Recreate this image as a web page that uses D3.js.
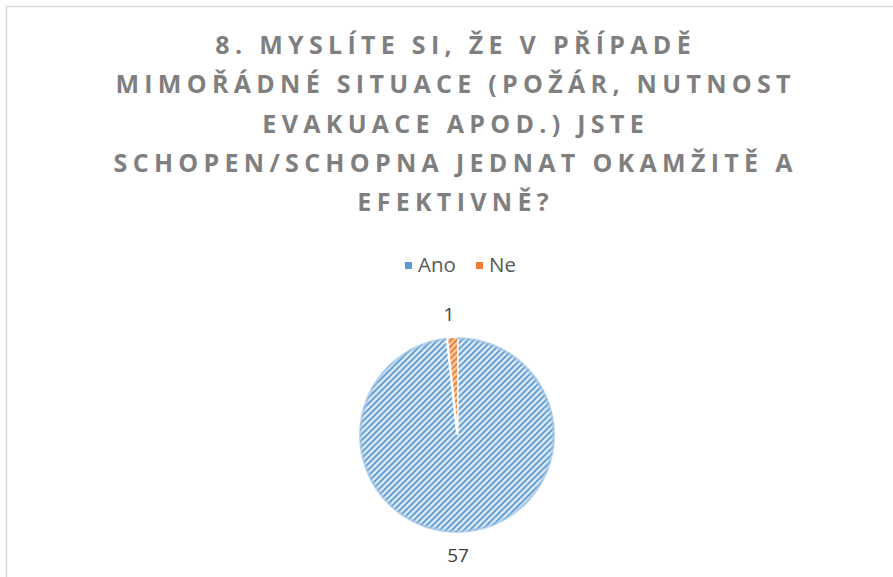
<!DOCTYPE html>
<html>
<head>
<meta charset="utf-8">
<script src="https://cdn.jsdelivr.net/npm/d3@7"></script>
<style>
  body { margin: 0; background: #fff; }
  svg { display: block; font-family: "Open Sans", "Noto Sans", sans-serif; }
</style>
</head>
<body>
<div id="chart"></div>
<script>
// chart data
const categories = ['Ano', 'Ne'];
const values = [57, 1];
const titleLines = [
  '8. MYSLÍTE SI, ŽE V PŘÍPADĚ',
  'MIMOŘÁDNÉ SITUACE (POŽÁR, NUTNOST',
  'EVAKUACE APOD.) JSTE',
  'SCHOPEN/SCHOPNA JEDNAT OKAMŽITĚ A',
  'EFEKTIVNĚ?'
];

const width = 893, height = 577;
const colors = { Ano: { fg: '#5b9bd5', bg: '#dae7f5' }, Ne: { fg: '#ed7d31', bg: '#f8c9a6' } };

const svg = d3.select('#chart').append('svg')
  .attr('width', width)
  .attr('height', height);

// striped fills (upward diagonal)
const defs = svg.append('defs');
categories.forEach(c => {
  const p = defs.append('pattern')
    .attr('id', 'pat-' + c)
    .attr('patternUnits', 'userSpaceOnUse')
    .attr('width', 6).attr('height', 6);
  p.append('rect').attr('width', 6).attr('height', 6).attr('fill', colors[c].bg);
  p.append('path')
    .attr('d', 'M-1,1 L1,-1 M0,6 L6,0 M5,7 L7,5')
    .attr('stroke', colors[c].fg)
    .attr('stroke-width', 1.7);
});

// chart area border (cropped at right/bottom)
svg.append('path')
  .attr('d', `M6.5,${height + 2} V6.5 H${width + 2}`)
  .attr('fill', 'none')
  .attr('stroke', '#d9d9d9')
  .attr('stroke-width', 1.5);

// title
const ls = 5.3;
svg.append('g').selectAll('text')
  .data(titleLines)
  .join('text')
  .attr('x', 453 + ls / 2)
  .attr('y', (d, i) => 54 + i * 39.3)
  .attr('text-anchor', 'middle')
  .attr('font-size', 25)
  .attr('font-weight', 700)
  .attr('letter-spacing', ls)
  .attr('fill', '#7f7f7f')
  .text(d => d);

// legend
const legend = svg.append('g');
const legendItems = [{ c: 'Ano', x: 405 }, { c: 'Ne', x: 476 }];
legendItems.forEach(it => {
  legend.append('rect')
    .attr('x', it.x).attr('y', 262)
    .attr('width', 7).attr('height', 7)
    .attr('fill', colors[it.c].fg);
  legend.append('text')
    .attr('x', it.x + 13).attr('y', 272)
    .attr('font-size', 20.5)
    .attr('fill', '#595959')
    .text(it.c);
});

// pie
const cx = 457, cy = 435, r = 98;
const pie = d3.pie().sort(null).value(d => d.v);
const arcs = pie(categories.map((c, i) => ({ c, v: values[i] })));
const arc = d3.arc().innerRadius(0).outerRadius(r);

const g = svg.append('g').attr('transform', `translate(${cx},${cy})`);
g.selectAll('path.slice')
  .data(arcs)
  .join('path')
  .attr('class', 'slice')
  .attr('transform', d => {
    if (d.data.c !== 'Ne') return null;
    // small explosion of the tiny slice, mostly sideways
    const [x, y] = d3.arc().innerRadius(0).outerRadius(4).centroid(d);
    return `translate(${x + 1},${y + 2})`;
  })
  .attr('d', arc)
  .attr('fill', d => `url(#pat-${d.data.c})`)
  .attr('stroke', '#fff')
  .attr('stroke-width', 1.5);

// soft edge ring on the big slice
g.append('path')
  .attr('d', d3.arc().innerRadius(r - 3).outerRadius(r)(arcs[0]))
  .attr('fill', '#9dc3e6')
  .attr('opacity', 0.6);

// data labels
g.selectAll('text.lbl')
  .data(arcs)
  .join('text')
  .attr('class', 'lbl')
  .attr('x', d => d.data.c === 'Ne' ? -8 : 1)
  .attr('y', d => d.data.c === 'Ne' ? -(r + 16) : r + 29)
  .attr('text-anchor', 'middle')
  .attr('font-size', 19)
  .attr('fill', '#404040')
  .text(d => d.data.v);
</script>
</body>
</html>
